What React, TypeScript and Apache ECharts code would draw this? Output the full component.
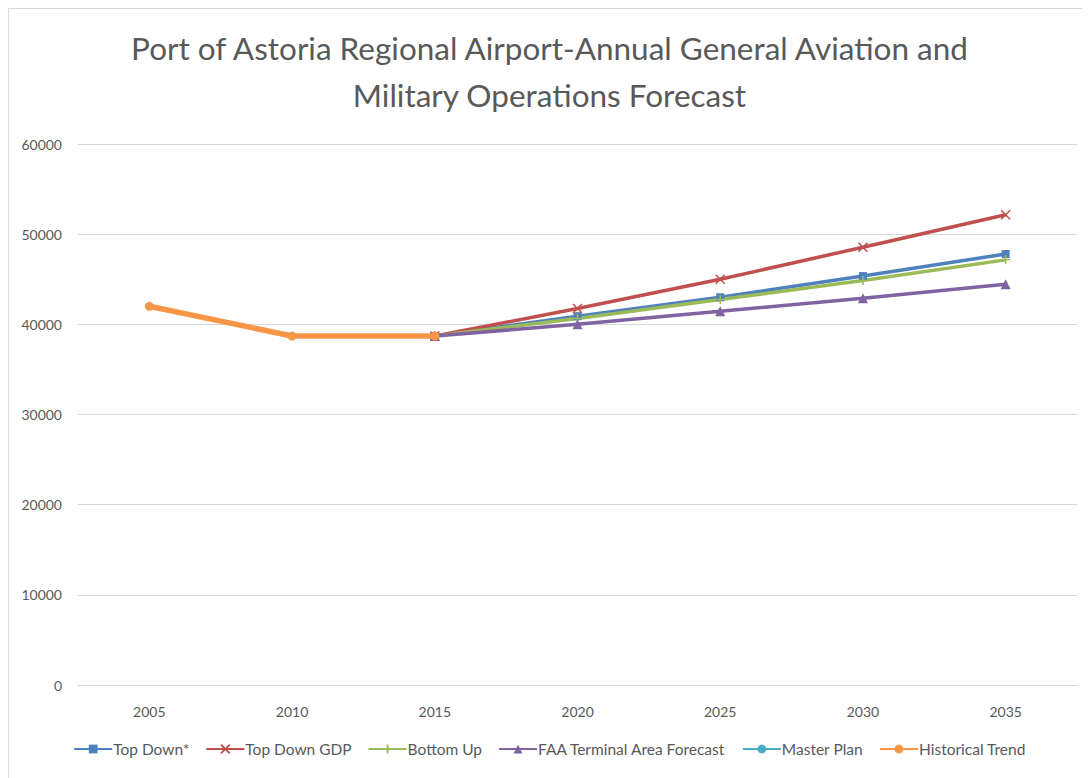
import React, { useEffect, useRef } from "react";
import * as echarts from "echarts";

const years = ["2005", "2010", "2015", "2020", "2025", "2030", "2035"];
const topDown = [null, null, 38700, 40900, 43000, 45350, 47800];
const topDownGDP = [null, null, 38700, 41750, 45000, 48550, 52150];
const bottomUp = [null, null, 38700, 40650, 42750, 44850, 47150];
const faaTAF = [null, null, 38700, 40000, 41450, 42900, 44450];
const masterPlan: (number | null)[] = [null, null, null, null, null, null, null];
const historical = [42000, 38700, 38700, null, null, null, null];

const titleText =
  "Port of Astoria Regional Airport-Annual General Aviation and\nMilitary Operations Forecast";

const xPath = "path://M0,0L10,10M10,0L0,10";
const plusPath = "path://M5,0L5,10M0,5L10,5";

export default function App() {
  const ref = useRef<HTMLDivElement>(null);
  useEffect(() => {
    if (!ref.current) return;
    const chart = echarts.init(ref.current, undefined, { renderer: "svg" });
    const font = "Lato, 'Open Sans', sans-serif";
    const mk = (
      name: string,
      data: (number | null)[],
      color: string,
      symbol: string,
      symbolSize: number,
      width: number,
      stroke = false
    ) => ({
      name,
      type: "line",
      data,
      color,
      symbol,
      symbolSize,
      showSymbol: true,
      connectNulls: false,
      lineStyle: { color, width },
      itemStyle: stroke
        ? { color: "transparent", borderColor: color, borderWidth: 1.5 }
        : { color, borderColor: color, borderWidth: 0 },
    });
    chart.setOption({
      animation: false,
      backgroundColor: "#ffffff",
      title: {
        text: titleText,
        left: "center",
        top: 10,
        textStyle: {
          fontFamily: font,
          fontSize: 31.5,
          fontWeight: "normal",
          color: "#595959",
          lineHeight: 47,
        },
      },
      grid: { left: 69, right: 13, top: 135, bottom: 93 },
      xAxis: {
        type: "category",
        data: years,
        boundaryGap: true,
        axisLine: { show: true, lineStyle: { color: "#d9d9d9" } },
        axisTick: { show: false },
        axisLabel: { color: "#595959", fontSize: 14, fontFamily: font, margin: 19 },
      },
      yAxis: {
        type: "value",
        min: 0,
        max: 60000,
        interval: 10000,
        axisLine: { show: false },
        axisTick: { show: false },
        axisLabel: {
          color: "#595959",
          fontSize: 14,
          fontFamily: font,
          margin: 16,
          formatter: (v: number) => String(v),
        },
        splitLine: { lineStyle: { color: "#d9d9d9" } },
      },
      legend: {
        bottom: 16,
        left: "center",
        itemWidth: 38,
        itemHeight: 11,
        itemGap: 16,
        textStyle: { color: "#595959", fontSize: 15.5, fontFamily: font, padding: [0, 0, 0, -4] },
        data: ["Top Down*", "Top Down GDP", "Bottom Up", "FAA Terminal Area Forecast", "Master Plan", "Historical Trend"],
      },
      series: [
        mk("Top Down*", topDown, "#4F81BD", "rect", 8, 3.5),
        mk("Top Down GDP", topDownGDP, "#C0504D", xPath, 9, 3.5, true),
        mk("Bottom Up", bottomUp, "#9BBB59", plusPath, 9, 3.5, true),
        mk("FAA Terminal Area Forecast", faaTAF, "#8064A2", "triangle", 10, 3.5),
        mk("Master Plan", masterPlan, "#4BACC6", "circle", 8, 3.5),
        mk("Historical Trend", historical, "#F79646", "circle", 9, 5.5),
      ],
    });
    return () => chart.dispose();
  }, []);
  return (
    <div
      ref={ref}
      style={{
        width: 1082,
        height: 770,
        borderLeft: "1px solid #d9d9d9",
        borderTop: "1px solid #d9d9d9",
        boxSizing: "border-box",
      }}
    />
  );
}
